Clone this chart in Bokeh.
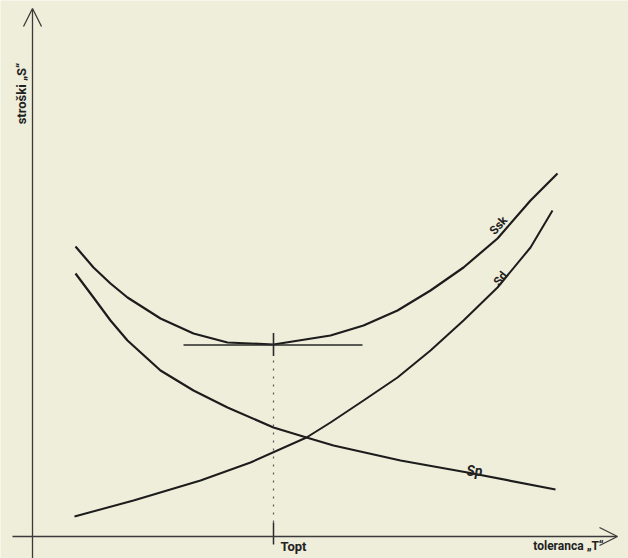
import numpy as np
from bokeh.plotting import figure
from bokeh.models import Arrow, OpenHead, Label
from bokeh.embed import file_html
from bokeh.resources import INLINE

# tolerance "T" (arbitrary units) and costs "S" (arbitrary units)
t_ssk = [4.3, 6.1, 7.8, 9.5, 12.8, 16.1, 19.5, 24.1, 29.8, 33.1, 36.5, 39.8, 43.1, 46.5, 49.8, 52.5]
s_ssk = [29.0, 26.9, 25.3, 23.9, 21.8, 20.3, 19.4, 19.2, 20.1, 21.1, 22.6, 24.6, 26.9, 29.8, 33.6, 36.3]

t_sp = [4.3, 6.1, 7.8, 9.5, 12.8, 16.1, 19.5, 24.1, 27.4, 30.1, 36.8, 43.5, 52.3]
s_sp = [26.3, 23.9, 21.6, 19.6, 16.6, 14.6, 12.9, 10.9, 9.9, 9.1, 7.6, 6.4, 4.7]

t_sd = [4.2, 10.1, 16.8, 21.8, 27.4, 29.8, 33.1, 36.5, 39.8, 43.1, 46.5, 49.8, 52.0]
s_sd = [2.0, 3.6, 5.6, 7.4, 9.9, 11.4, 13.6, 15.9, 18.6, 21.6, 24.9, 28.9, 32.6]

t_opt = 24.1          # optimum tolerance
s_min = 19.15         # minimum total cost
tangent_t = [15.1, 33.0]

PAPER = "#efeedb"
INK = "#1c1c1c"
AXIS = "#3a3a3a"
FONT = "Roboto"

p = figure(width=628, height=558, output_backend="svg", toolbar_location=None,
           x_range=(-3.2, 59.6), y_range=(-2.2, 53.6),
           min_border=0, outline_line_color=None,
           background_fill_color=PAPER, border_fill_color=PAPER)
p.axis.visible = False
p.grid.visible = False

# axes with open arrow heads
p.add_layout(Arrow(end=OpenHead(size=18, line_width=1.3, line_color=AXIS),
                   x_start=0, y_start=-2.3, x_end=0, y_end=52.8,
                   line_width=1.3, line_color=AXIS))
p.add_layout(Arrow(end=OpenHead(size=18, line_width=1.3, line_color=AXIS),
                   x_start=-2.0, y_start=0, x_end=58.5, y_end=0,
                   line_width=1.3, line_color=AXIS))

# curves
p.line(t_ssk, s_ssk, line_width=2.2, line_color=INK)
p.line(t_sp, s_sp, line_width=2.2, line_color=INK)
p.line(t_sd, s_sd, line_width=2.0, line_color=INK)

# tangent at the minimum and the optimum marker
p.line(tangent_t, [s_min, s_min], line_width=1.6, line_color="#2a2a2a")
p.line([t_opt, t_opt], [s_min - 1.1, s_min + 1.2], line_width=1.6, line_color="#2a2a2a")
p.line([t_opt, t_opt], [1.4, s_min - 1.1], line_width=1.2, line_color="#555555", line_dash="2 6")
p.line([t_opt, t_opt], [-0.8, 1.4], line_width=1.5, line_color="#2a2a2a")

# texts
p.add_layout(Label(x=-1.1, y=44.3, text="stroški „S“", angle=np.pi / 2,
                   text_align="center", text_baseline="middle",
                   text_font=FONT, text_font_style="bold", text_font_size="13px",
                   text_color="#222222"))
p.add_layout(Label(x=24.8, y=-0.95, text="Topt", text_align="left", text_baseline="middle",
                   text_font=FONT, text_font_style="bold", text_font_size="13px",
                   text_color="#222222"))
p.add_layout(Label(x=53.6, y=-0.9, text="toleranca „T“", text_align="center", text_baseline="middle",
                   text_font=FONT, text_font_style="bold", text_font_size="12px",
                   text_color="#222222"))
p.add_layout(Label(x=46.6, y=31.1, text="Ssk", angle=np.radians(48),
                   text_align="center", text_baseline="middle",
                   text_font=FONT, text_font_style="bold", text_font_size="12px",
                   text_color="#222222"))
p.add_layout(Label(x=46.8, y=25.8, text="Sd", angle=np.radians(52),
                   text_align="center", text_baseline="middle",
                   text_font=FONT, text_font_style="bold", text_font_size="12px",
                   text_color="#222222"))
p.add_layout(Label(x=44.2, y=6.6, text="Sp",
                   text_align="center", text_baseline="middle",
                   text_font=FONT, text_font_style="bold italic", text_font_size="14px",
                   text_color="#222222"))

open("out.html", "w").write(file_html(p, INLINE))
